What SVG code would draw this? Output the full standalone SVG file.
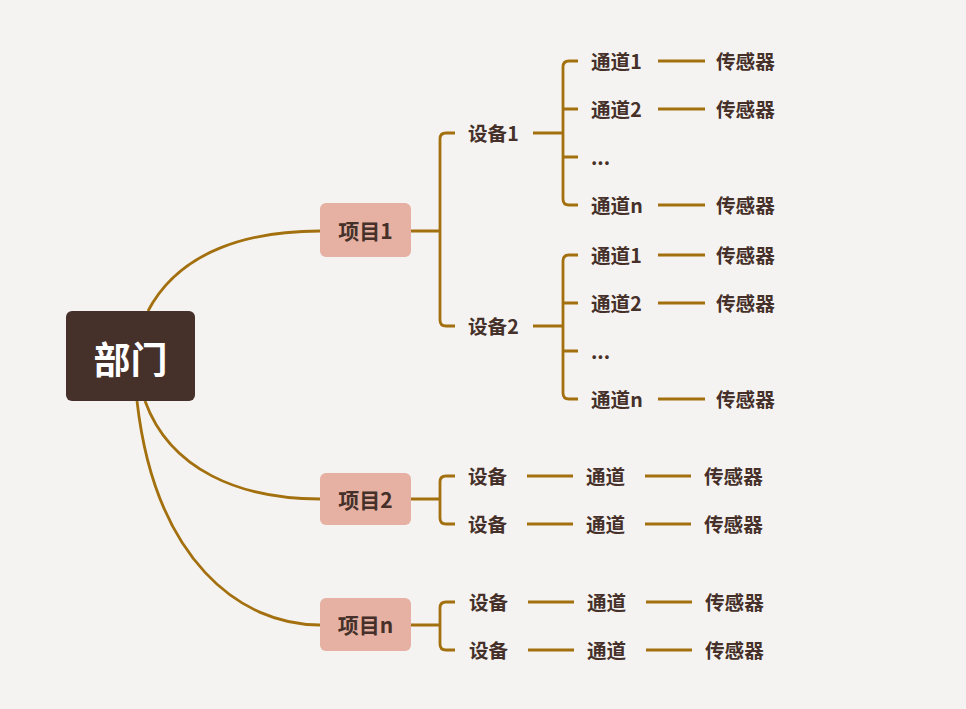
<svg xmlns="http://www.w3.org/2000/svg" width="966" height="709" viewBox="0 0 966 709">
<style>
.ln{fill:none;stroke:#A3700F;stroke-width:2.8;stroke-linecap:butt}
.t{font-family:"Noto Sans CJK SC","Noto Sans",sans-serif;font-weight:bold;font-size:19.6px;fill:#45302A;dominant-baseline:central}
.pj{fill:#E6B1A2}
.pt{font-family:"Noto Sans CJK SC","Noto Sans",sans-serif;font-weight:bold;font-size:21px;fill:#45302A;text-anchor:middle;dominant-baseline:central}
</style>
<rect width="966" height="709" fill="#F5F3F1"/>
<g id="connectors">
<path class="ln" d="M148,311 C180,250 250,231 320,231"/>
<path class="ln" d="M145,401 C170,470 240,499 320,499"/>
<path class="ln" d="M137,401 C155,560 240,625 320,625"/>
<path class="ln" d="M411,231 H440 M455,133 H446 Q440,133 440,139 V320 Q440,326 446,326 H455"/>
<path class="ln" d="M533,133 H563 M578,61 H569 Q563,61 563,67 V199 Q563,205 569,205 H578 M563,109 H578 M563,157 H578"/>
<path class="ln" d="M533,326 H563 M578,255 H569 Q563,255 563,261 V393 Q563,399 569,399 H578 M563,303 H578 M563,351 H578"/>
<path class="ln" d="M658,61 H705 M658,109 H705 M658,205 H705 M658,255 H705 M658,303 H705 M658,399 H705"/>
<path class="ln" d="M411,499 H440 M455,476 H446 Q440,476 440,482 V518 Q440,524 446,524 H455"/>
<path class="ln" d="M411,625 H440 M455,602 H446 Q440,602 440,608 V644 Q440,650 446,650 H455"/>
<path class="ln" d="M527,476 H573 M645,476 H691 M527,524 H573 M645,524 H691"/>
<path class="ln" d="M528,602 H574 M646,602 H692 M528,650 H574 M646,650 H692"/>
</g>
<g id="root">
<rect x="66" y="311" width="129" height="90" rx="6" fill="#45302A"/>
<text x="130.5" y="358" font-family="Noto Sans CJK SC,sans-serif" font-weight="bold" font-size="37" fill="#FFFFFF" text-anchor="middle" dominant-baseline="central">部门</text>
</g>
<g id="p1"><rect class="pj" x="320" y="203" width="91" height="54" rx="6"/><text class="pt" x="365.5" y="230">项目1</text></g>
<g id="p2"><rect class="pj" x="320" y="473" width="91" height="52" rx="6"/><text class="pt" x="365.5" y="499">项目2</text></g>
<g id="pn"><rect class="pj" x="320" y="598" width="91" height="53" rx="6"/><text class="pt" x="365.5" y="624">项目n</text></g>
<g id="d1"><text class="t" x="468" y="132">设备1</text></g>
<g id="d1c1"><text class="t" x="591" y="60">通道1</text></g>
<g id="d1s1"><text class="t" x="716" y="60">传感器</text></g>
<g id="d1c2"><text class="t" x="591" y="108">通道2</text></g>
<g id="d1s2"><text class="t" x="716" y="108">传感器</text></g>
<g id="d1c3"><text class="t" x="591" y="156">...</text></g>
<g id="d1cn"><text class="t" x="591" y="204">通道n</text></g>
<g id="d1sn"><text class="t" x="716" y="204">传感器</text></g>
<g id="d2"><text class="t" x="468" y="325">设备2</text></g>
<g id="d2c1"><text class="t" x="591" y="254">通道1</text></g>
<g id="d2s1"><text class="t" x="716" y="254">传感器</text></g>
<g id="d2c2"><text class="t" x="591" y="302">通道2</text></g>
<g id="d2s2"><text class="t" x="716" y="302">传感器</text></g>
<g id="d2c3"><text class="t" x="591" y="350">...</text></g>
<g id="d2cn"><text class="t" x="591" y="398">通道n</text></g>
<g id="d2sn"><text class="t" x="716" y="398">传感器</text></g>
<g id="p2a"><text class="t" x="468" y="475">设备</text><text class="t" x="586" y="475">通道</text><text class="t" x="704" y="475">传感器</text></g>
<g id="p2b"><text class="t" x="468" y="523">设备</text><text class="t" x="586" y="523">通道</text><text class="t" x="704" y="523">传感器</text></g>
<g id="pna"><text class="t" x="469" y="601">设备</text><text class="t" x="587" y="601">通道</text><text class="t" x="705" y="601">传感器</text></g>
<g id="pnb"><text class="t" x="469" y="649">设备</text><text class="t" x="587" y="649">通道</text><text class="t" x="705" y="649">传感器</text></g>
</svg>
